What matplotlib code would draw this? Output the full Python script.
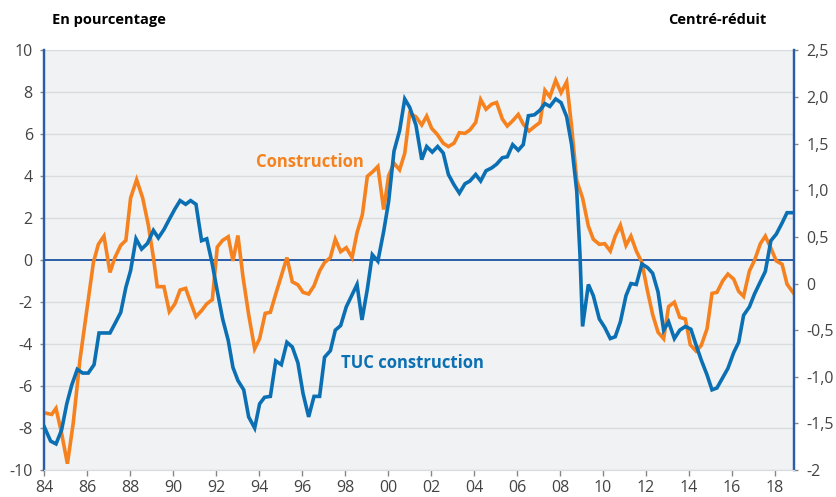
import matplotlib
matplotlib.use('Agg')
import matplotlib.pyplot as plt
import numpy as np

plt.rcParams['font.family'] = ['Open Sans', 'DejaVu Sans']

# Construction, en pourcentage (axe de gauche)
constr_years = [1984.00, 1984.36, 1984.56, 1984.82, 1985.09, 1985.36, 1985.67, 1985.99,
                1986.30, 1986.53, 1986.79, 1987.07, 1987.30, 1987.57, 1987.81, 1988.03,
                1988.31, 1988.59, 1988.85, 1989.09, 1989.27, 1989.58, 1989.83, 1990.09,
                1990.33, 1990.59, 1990.82, 1991.07, 1991.33, 1991.57, 1991.83, 1992.06,
                1992.31, 1992.57, 1992.79, 1993.02, 1993.26, 1993.52, 1993.80, 1994.03,
                1994.29, 1994.53, 1994.78, 1995.04, 1995.30, 1995.55, 1995.81, 1996.05,
                1996.31, 1996.56, 1996.82, 1997.05, 1997.32, 1997.55, 1997.80, 1998.06,
                1998.33, 1998.56, 1998.81, 1999.04, 1999.30, 1999.53, 1999.80, 2000.03,
                2000.28, 2000.54, 2000.78, 2001.01, 2001.30, 2001.57, 2001.80, 2002.03,
                2002.29, 2002.57, 2002.81, 2003.07, 2003.32, 2003.58, 2003.81, 2004.08,
                2004.31, 2004.56, 2004.82, 2005.05, 2005.32, 2005.55, 2005.80, 2006.06,
                2006.29, 2006.56, 2006.81, 2007.07, 2007.30, 2007.53, 2007.80, 2008.05,
                2008.31, 2008.54, 2008.78, 2009.05, 2009.32, 2009.55, 2009.83, 2010.08,
                2010.34, 2010.57, 2010.81, 2011.07, 2011.30, 2011.55, 2011.81, 2012.05,
                2012.31, 2012.56, 2012.82, 2013.05, 2013.32, 2013.57, 2013.83, 2014.06,
                2014.33, 2014.57, 2014.84, 2015.07, 2015.30, 2015.57, 2015.81, 2016.08,
                2016.31, 2016.54, 2016.81, 2017.05, 2017.32, 2017.55, 2017.81, 2018.06,
                2018.33, 2018.56, 2018.87]
constr_vals = [-7.27, -7.35, -7.06, -8.25, -9.70, -7.77, -4.77, -2.40,
               -0.10, 0.76, 1.15, -0.58, 0.13, 0.71, 0.95, 2.97,
               3.84, 2.97, 1.70, 0.13, -1.26, -1.26, -2.45, -2.08,
               -1.42, -1.34, -2.00, -2.69, -2.40, -2.08, -1.88, 0.63,
               0.95, 1.12, -0.03, 1.18, -0.82, -2.59, -4.22, -3.74,
               -2.53, -2.48, -1.61, -0.74, 0.13, -1.03, -1.17, -1.53,
               -1.61, -1.22, -0.51, -0.11, 0.13, 1.00, 0.41, 0.60,
               0.13, 1.31, 2.18, 4.00, 4.23, 4.47, 2.42, 4.03,
               4.63, 4.31, 5.10, 7.00, 6.84, 6.45, 6.87, 6.29,
               6.00, 5.58, 5.42, 5.58, 6.08, 6.05, 6.21, 6.57,
               7.66, 7.20, 7.44, 7.52, 6.73, 6.40, 6.65, 6.95,
               6.49, 6.16, 6.37, 6.57, 8.10, 7.79, 8.58, 7.99,
               8.50, 6.37, 3.79, 2.97, 1.63, 1.00, 0.76, 0.79,
               0.44, 1.15, 1.67, 0.71, 1.15, 0.44, -0.11, -1.37,
               -2.59, -3.43, -3.74, -2.21, -2.00, -2.72, -2.80, -4.03,
               -4.33, -4.06, -3.27, -1.58, -1.53, -0.98, -0.66, -0.90,
               -1.48, -1.72, -0.51, 0.00, 0.79, 1.15, 0.57, -0.03,
               -0.19, -1.14, -1.58]

# TUC construction, centre-reduit (axe de droite)
tuc_years = [1984.00, 1984.31, 1984.56, 1984.82, 1985.06, 1985.29, 1985.55, 1985.80,
             1986.06, 1986.33, 1986.56, 1986.79, 1987.07, 1987.30, 1987.57, 1987.81,
             1988.03, 1988.28, 1988.54, 1988.81, 1989.09, 1989.32, 1989.58, 1989.83,
             1990.09, 1990.33, 1990.59, 1990.82, 1991.07, 1991.33, 1991.57, 1991.81,
             1992.06, 1992.31, 1992.57, 1992.79, 1993.02, 1993.29, 1993.52, 1993.80,
             1994.03, 1994.26, 1994.53, 1994.78, 1995.04, 1995.30, 1995.55, 1995.81,
             1996.05, 1996.31, 1996.56, 1996.82, 1997.05, 1997.32, 1997.55, 1997.80,
             1998.06, 1998.33, 1998.56, 1998.79, 1999.04, 1999.27, 1999.53, 1999.80,
             2000.03, 2000.28, 2000.54, 2000.78, 2001.01, 2001.30, 2001.57, 2001.80,
             2002.06, 2002.31, 2002.57, 2002.81, 2003.07, 2003.32, 2003.58, 2003.81,
             2004.08, 2004.31, 2004.56, 2004.82, 2005.05, 2005.32, 2005.55, 2005.80,
             2006.06, 2006.29, 2006.53, 2006.81, 2007.07, 2007.30, 2007.53, 2007.80,
             2008.05, 2008.31, 2008.54, 2008.78, 2008.93, 2009.05, 2009.32, 2009.55,
             2009.83, 2010.08, 2010.34, 2010.57, 2010.81, 2011.07, 2011.30, 2011.55,
             2011.81, 2012.08, 2012.31, 2012.56, 2012.82, 2013.05, 2013.32, 2013.57,
             2013.83, 2014.09, 2014.33, 2014.57, 2014.84, 2015.07, 2015.30, 2015.57,
             2015.81, 2016.08, 2016.31, 2016.54, 2016.81, 2017.05, 2017.32, 2017.55,
             2017.81, 2018.06, 2018.33, 2018.56, 2018.87]
tuc_vals = [-1.53, -1.69, -1.72, -1.57, -1.29, -1.09, -0.92, -0.96,
            -0.96, -0.87, -0.53, -0.53, -0.53, -0.43, -0.31, -0.04,
            0.14, 0.48, 0.37, 0.43, 0.57, 0.49, 0.58, 0.69,
            0.80, 0.89, 0.85, 0.89, 0.85, 0.46, 0.48, 0.23,
            -0.08, -0.38, -0.61, -0.90, -1.04, -1.14, -1.43, -1.55,
            -1.29, -1.22, -1.21, -0.83, -0.87, -0.63, -0.68, -0.85,
            -1.18, -1.43, -1.21, -1.21, -0.79, -0.72, -0.50, -0.45,
            -0.25, -0.12, -0.01, -0.39, -0.06, 0.31, 0.24, 0.56,
            0.88, 1.42, 1.64, 1.98, 1.89, 1.70, 1.33, 1.47,
            1.41, 1.47, 1.40, 1.17, 1.06, 0.97, 1.07, 1.10,
            1.17, 1.10, 1.21, 1.24, 1.28, 1.35, 1.36, 1.49,
            1.43, 1.49, 1.80, 1.81, 1.86, 1.93, 1.90, 1.98,
            1.94, 1.79, 1.49, 0.99, 0.31, -0.46, -0.01, -0.13,
            -0.38, -0.47, -0.59, -0.57, -0.41, -0.13, 0.00, -0.01,
            0.21, 0.17, 0.11, -0.09, -0.50, -0.41, -0.59, -0.50,
            -0.46, -0.49, -0.66, -0.82, -0.98, -1.14, -1.12, -1.01,
            -0.91, -0.74, -0.63, -0.34, -0.25, -0.11, 0.02, 0.13,
            0.46, 0.53, 0.65, 0.76, 0.76]

year_ticks = list(range(1984, 2019, 2))
year_labels = ['84', '86', '88', '90', '92', '94', '96', '98', '00', '02',
               '04', '06', '08', '10', '12', '14', '16', '18']
left_ticks = [-10, -8, -6, -4, -2, 0, 2, 4, 6, 8, 10]
right_ticks = [-2, -1.5, -1, -0.5, 0, 0.5, 1, 1.5, 2, 2.5]
right_labels = ['-2', '-1,5', '-1,0', '-0,5', '0', '0,5', '1,0', '1,5', '2,0', '2,5']

orange = '#f5821f'
blue = '#0b6fb3'
spine_blue = '#2a5ca8'
grey_txt = '#444444'

fig = plt.figure(figsize=(8.36, 4.97), dpi=100)
ax = fig.add_axes([0.0526, 0.0543, 0.8968, 0.8441])
ax.set_facecolor('#f0f2f4')
ax2 = ax.twinx()

# grid
for t in left_ticks:
    if t != 0:
        ax.axhline(t, color='#d9dcdf', lw=1.0, zorder=0)
ax.axhline(0, color=spine_blue, lw=1.4, zorder=1)

ax.plot(constr_years, constr_vals, color=orange, lw=2.6, solid_joinstyle='miter', zorder=3)
ax2.plot(tuc_years, tuc_vals, color=blue, lw=2.6, solid_joinstyle='miter', zorder=3)

ax.set_xlim(1984, 2018.87)
ax.set_ylim(-10, 10)
ax2.set_ylim(-2, 2.5)

ax.set_xticks(year_ticks)
ax.set_xticklabels(year_labels)
ax.set_yticks(left_ticks)
ax.set_yticklabels([str(t) for t in left_ticks])
ax2.set_yticks(right_ticks)
ax2.set_yticklabels(right_labels)

for a in (ax, ax2):
    a.spines['top'].set_visible(False)
    a.spines['bottom'].set_color('#d9dcdf')
    a.spines['left'].set_color(spine_blue)
    a.spines['right'].set_color(spine_blue)
    a.spines['left'].set_linewidth(1.6)
    a.spines['right'].set_linewidth(1.6)

ax.tick_params(axis='x', colors='#888888', length=4, width=1, labelsize=11.5,
               labelcolor=grey_txt, pad=3)
ax.tick_params(axis='y', colors='#888888', length=3, width=1, labelsize=11.5,
               labelcolor=grey_txt, pad=5)
ax2.tick_params(axis='y', colors='#888888', length=3, width=1, labelsize=11.5,
                labelcolor=grey_txt, pad=6)

ax.text(1993.86, 4.7, 'Construction', color=orange, fontsize=12, fontweight='bold',
        va='center', ha='left', zorder=4)
ax.text(1997.81, -4.88, 'TUC construction', color=blue, fontsize=12, fontweight='bold',
        va='center', ha='left', zorder=4)

fig.text(52 / 836, 1 - 20 / 497, 'En pourcentage', fontsize=10.5, fontweight='bold',
         ha='left', va='center', color='black')
fig.text(766 / 836, 1 - 20 / 497, 'Centré-réduit', fontsize=10.5, fontweight='bold',
         ha='right', va='center', color='black')

fig.savefig('out.png', dpi=100)
